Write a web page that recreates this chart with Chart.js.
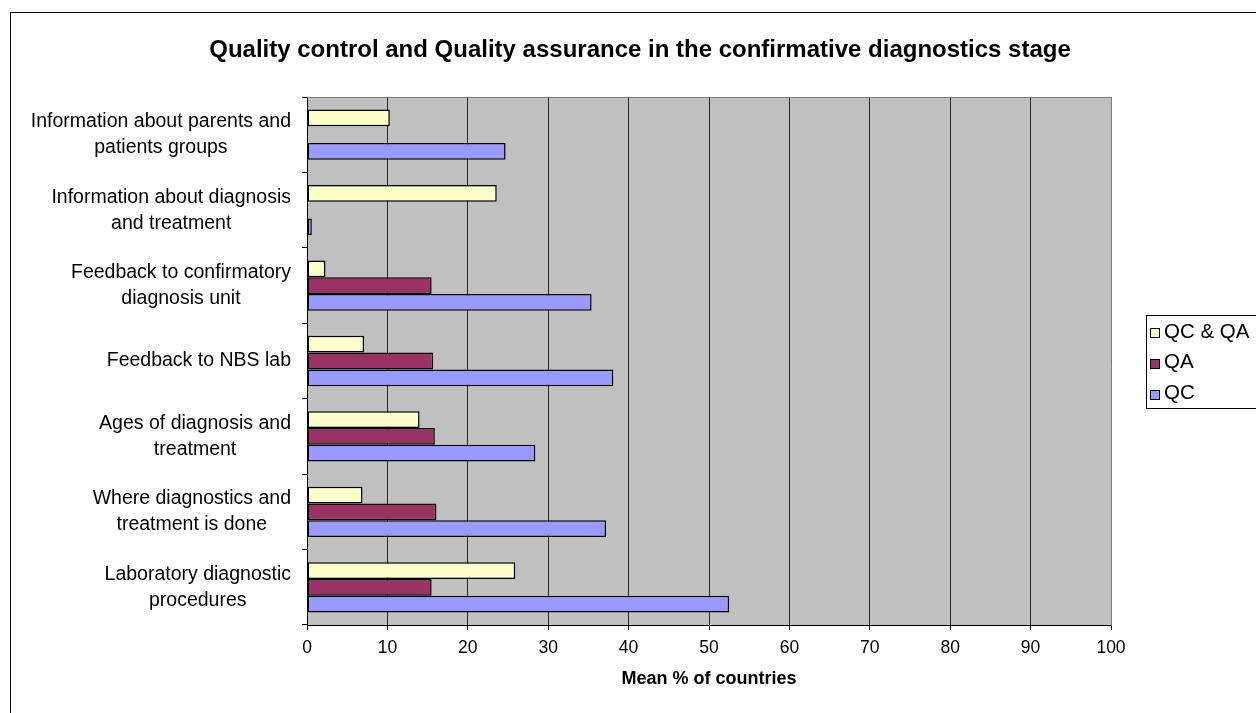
<!DOCTYPE html>
<html>
<head>
<meta charset="utf-8">
<script src="https://cdn.jsdelivr.net/npm/chart.js@4.4.1/dist/chart.umd.min.js"></script>
<style>
  html, body { margin: 0; padding: 0; background: #ffffff; }
  #wrap { position: relative; width: 1256px; height: 713px; overflow: hidden; }
</style>
</head>
<body>
<div id="wrap"><canvas id="c" width="1256" height="713"></canvas></div>
<script>
// Categories, top to bottom (wrapped lines as drawn beside the axis)
const categories = [
  ['Information about parents and', 'patients groups'],
  ['Information about diagnosis', 'and treatment'],
  ['Feedback to confirmatory', 'diagnosis unit'],
  ['Feedback to NBS lab'],
  ['Ages of diagnosis and', 'treatment'],
  ['Where diagnostics and', 'treatment is done'],
  ['Laboratory diagnostic', 'procedures']
];
const seriesNames = ['QC & QA', 'QA', 'QC'];
const qcqaValues = [10.3, 23.6, 2.3, 7.1, 14.0, 6.9, 25.9];
const qaValues   = [null, null, 15.5, 15.7, 15.9, 16.1, 15.5];
const qcValues   = [24.7, 0.6, 35.4, 38.1, 28.4, 37.2, 52.5];
const xTickValues = [0, 10, 20, 30, 40, 50, 60, 70, 80, 90, 100];
const chartTitle = 'Quality control and Quality assurance in the confirmative diagnostics stage';
const xAxisTitle = 'Mean % of countries';

const FONT = '"Liberation Sans", Arial, Helvetica, sans-serif';
const seriesFill = ['#FFFFCC', '#993366', '#9999FF'];

const decorations = {
  id: 'decorations',
  beforeDraw(chart) {
    const { ctx, chartArea: a } = chart;
    ctx.save();
    ctx.fillStyle = '#ffffff';
    ctx.fillRect(0, 0, chart.width, chart.height);
    ctx.fillStyle = '#C0C0C0';
    ctx.fillRect(a.left, a.top, a.right - a.left, a.bottom - a.top);
    ctx.restore();
  },
  afterDraw(chart) {
    const { ctx, chartArea: a } = chart;
    const yScale = chart.scales.y;
    ctx.save();

    // plot frame (top and right edges)
    ctx.strokeStyle = '#808080';
    ctx.lineWidth = 1;
    ctx.beginPath();
    ctx.moveTo(Math.round(a.left) + 0.5, Math.round(a.top) + 0.5);
    ctx.lineTo(Math.round(a.right) + 0.5, Math.round(a.top) + 0.5);
    ctx.lineTo(Math.round(a.right) + 0.5, Math.round(a.bottom) + 0.5);
    ctx.stroke();

    // outer chart border
    ctx.strokeStyle = '#000000';
    ctx.strokeRect(10.5, 12.5, 1400, 900);

    // title
    ctx.fillStyle = '#000000';
    ctx.font = 'bold 24px ' + FONT;
    ctx.textAlign = 'center';
    ctx.textBaseline = 'alphabetic';
    ctx.fillText(chartTitle, 640, 57);

    // x axis title
    ctx.font = 'bold 18px ' + FONT;
    ctx.textBaseline = 'middle';
    ctx.fillText(xAxisTitle, (a.left + a.right) / 2, 679);

    // category labels: block right-aligned, lines centred within the block
    ctx.font = '19.5px ' + FONT;
    const lineH = 26;
    const rightEdge = a.left - 16;
    categories.forEach((lines, i) => {
      const yc = yScale.getPixelForValue(i);
      const w = Math.max(...lines.map(l => ctx.measureText(l).width));
      const cx = rightEdge - w / 2;
      lines.forEach((l, j) => {
        ctx.fillText(l, cx, yc + (j - (lines.length - 1) / 2) * lineH);
      });
    });

    // legend
    const lx = 1146, ly = 315, lh = 93;
    ctx.fillStyle = '#ffffff';
    ctx.fillRect(lx, ly, 200, lh);
    ctx.strokeStyle = '#000000';
    ctx.strokeRect(lx + 0.5, ly + 0.5, 200, lh);
    ctx.textAlign = 'left';
    ctx.font = '20.5px ' + FONT;
    chart.data.datasets.forEach((ds, k) => {
      const ty = 332 + k * 30.8;
      ctx.fillStyle = ds.backgroundColor;
      ctx.fillRect(lx + 4, Math.round(ty - 4), 9, 9);
      ctx.strokeStyle = '#000000';
      ctx.strokeRect(lx + 4.5, Math.round(ty - 4) + 0.5, 9, 9);
      ctx.fillStyle = '#000000';
      ctx.fillText(ds.label, lx + 18, ty);
    });
    ctx.restore();
  }
};

const valueSets = [qcqaValues, qaValues, qcValues];

new Chart(document.getElementById('c'), {
  type: 'bar',
  data: {
    labels: categories,
    datasets: seriesNames.map((name, k) => ({
      label: name,
      data: valueSets[k],
      backgroundColor: seriesFill[k],
      borderColor: '#000000',
      borderWidth: 1.5,
      borderSkipped: false,
      categoryPercentage: 3 / 4.5,
      barPercentage: 1.0
    }))
  },
  options: {
    indexAxis: 'y',
    responsive: false,
    animation: false,
    devicePixelRatio: 1,
    layout: { padding: { top: 97, right: 145, left: 0, bottom: 0 } },
    plugins: {
      legend: { display: false },
      title: { display: false },
      tooltip: { enabled: false }
    },
    scales: {
      x: {
        type: 'linear',
        min: 0,
        max: 100,
        afterBuildTicks(scale) {
          scale.ticks = xTickValues.map(v => ({ value: v }));
        },
        afterFit(scale) { scale.height = 88; },
        grid: {
          color: '#262626',
          lineWidth: 1,
          drawTicks: true,
          tickLength: 5,
          tickColor: '#000000'
        },
        border: { display: true, color: '#000000', width: 1 },
        ticks: {
          color: '#000000',
          font: { family: FONT, size: 17.5 },
          padding: 8,
          maxRotation: 0,
          autoSkip: false
        }
      },
      y: {
        type: 'category',
        offset: true,
        afterFit(scale) { scale.width = 307; },
        grid: {
          offset: true,
          drawOnChartArea: false,
          drawTicks: true,
          tickLength: 5,
          tickColor: '#000000'
        },
        border: { display: true, color: '#000000', width: 1 },
        ticks: { display: false }
      }
    }
  },
  plugins: [decorations]
});
</script>
</body>
</html>
